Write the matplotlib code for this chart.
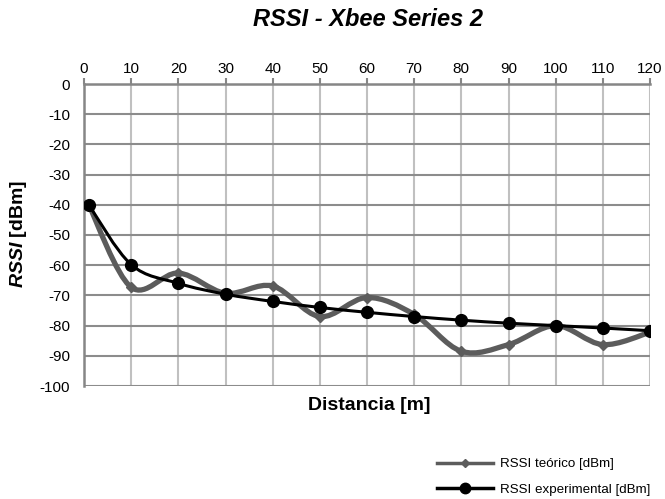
import matplotlib
matplotlib.use("Agg")
import matplotlib.pyplot as plt
from matplotlib.path import Path
from matplotlib.patches import PathPatch
from matplotlib.lines import Line2D
import numpy as np

plt.rcParams['font.family'] = ['Liberation Sans', 'DejaVu Sans']
plt.rcParams['axes.unicode_minus'] = False
plt.rcParams['mathtext.fontset'] = 'custom'
plt.rcParams['mathtext.it'] = 'Liberation Sans:italic:bold'
plt.rcParams['mathtext.rm'] = 'Liberation Sans:bold'

distancia = [1, 10, 20, 30, 40, 50, 60, 70, 80, 90, 100, 110, 120]
rssi_teorico = [-40, -67.3, -62.6, -69.3, -66.9, -77, -70.7, -76.3, -88.5, -86.3, -80, -86.3, -82.2]
rssi_experimental = [-40, -59.8, -66, -69.6, -72, -74, -75.6, -77, -78.2, -79.2, -80, -80.8, -81.7]
x_ticks = list(range(0, 121, 10))
y_ticks = list(range(0, -101, -10))


def smooth_path(xs, ys):
    pts = np.column_stack([xs, ys]).astype(float)
    n = len(pts)
    verts = [pts[0]]
    codes = [Path.MOVETO]
    for i in range(n - 1):
        p0 = pts[i - 1] if i > 0 else pts[i]
        p1 = pts[i]
        p2 = pts[i + 1]
        p3 = pts[i + 2] if i + 2 < n else pts[i + 1]
        c1 = p1 + (p2 - p0) / 6.0
        c2 = p2 - (p3 - p1) / 6.0
        verts += [c1, c2, p2]
        codes += [Path.CURVE4] * 3
    return Path(verts, codes)


fig = plt.figure(figsize=(6.65, 4.99), dpi=100)
ax = fig.add_axes([84 / 665, 1 - 386 / 499, (650 - 84) / 665, (386 - 84) / 499])

ax.set_xlim(0, 120)
ax.set_ylim(-100, 0)
ax.set_xticks(x_ticks)
ax.set_yticks(y_ticks)
ax.xaxis.tick_top()
ax.tick_params(axis='x', direction='out', length=4, width=1.5, color='#868686',
               labelsize=11, pad=2)
ax.tick_params(axis='y', length=0, labelsize=11, pad=10)

for v in x_ticks[1:]:
    ax.axvline(v, color='#c0c0c0', lw=1.5, zorder=0)
for v in y_ticks:
    ax.axhline(v, color='#8c8c8c', lw=1.5, zorder=0.5)

for s in ['right', 'bottom']:
    ax.spines[s].set_visible(False)
for s in ['left', 'top']:
    ax.spines[s].set_color('#868686')
    ax.spines[s].set_linewidth(1.8)

grey = '#5c5c5c'
ax.add_patch(PathPatch(smooth_path(distancia, rssi_teorico), fill=False,
                       edgecolor=grey, lw=3.8, capstyle='round', joinstyle='round', zorder=3))
ax.plot(distancia, rssi_teorico, linestyle='none', marker='D', ms=5.5, color=grey, zorder=3.5)

ax.add_patch(PathPatch(smooth_path(distancia, rssi_experimental), fill=False,
                       edgecolor='black', lw=2.2, capstyle='round', joinstyle='round', zorder=4))
ax.plot(distancia, rssi_experimental, linestyle='none', marker='o', ms=8.5, color='black', zorder=5)

fig.text(368 / 665, 1 - 20 / 499, 'RSSI - Xbee Series 2', ha='center', va='center',
         fontsize=17, fontweight='bold', fontstyle='italic')
fig.text(369 / 665, 1 - 405 / 499, 'Distancia [m]', ha='center', va='center',
         fontsize=14, fontweight='bold')
fig.text(19 / 665, 1 - 234 / 499, r'$\it{RSSI}$ [dBm]', ha='center', va='center',
         rotation=90, fontsize=14, fontweight='bold')

handles = [
    Line2D([], [], color=grey, lw=2.5, marker='D', ms=4),
    Line2D([], [], color='black', lw=2.5, marker='o', ms=7.5),
]
fig.legend(handles, ['RSSI teórico [dBm]', 'RSSI experimental [dBm]'],
           loc='center left', bbox_to_anchor=(437 / 665, 1 - 477 / 499),
           frameon=False, fontsize=9.6, handlelength=4.2, handletextpad=0.5,
           labelspacing=1.0, borderpad=0, borderaxespad=0)

fig.savefig('out.png', dpi=100)
